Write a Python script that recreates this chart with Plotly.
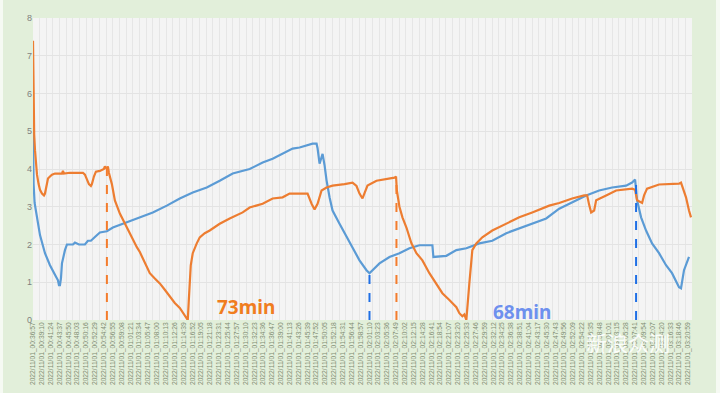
import plotly.graph_objects as go

# elapsed minutes since 2022/11/01 00:36:57
orange_t = [0.0, 0.15, 0.2, 0.3, 0.5, 0.75, 1.0, 1.4, 1.75, 2.25, 2.75, 3.0, 3.25, 3.5, 3.75, 4.25, 4.75, 5.5,
            7.25, 7.5, 7.75, 9.25, 12.5, 13.0, 13.5, 14.0, 14.5, 14.75, 15.25, 15.75, 16.75, 17.75, 18.0, 18.5,
            18.75, 19.0, 19.75, 20.5, 21.75, 23.0, 24.25, 26.0, 26.75, 28.0, 29.25, 30.5, 31.75, 33.0, 34.25,
            35.5, 36.75, 38.0, 38.5, 38.75, 39.0, 39.25, 39.5, 40.0, 40.5, 41.0, 41.75, 43.0, 44.25, 46.75,
            49.25, 51.0, 52.5, 54.25, 57.5, 60.0, 62.5, 64.25, 68.75, 69.75, 70.5, 71.25, 72.25, 73.5, 75.0,
            78.0, 80.0, 81.0, 81.75, 82.5, 83.0, 83.75, 86.0, 88.0, 90.5, 90.9, 91.1, 91.75, 92.5, 93.5, 94.75,
            96.0, 97.5, 99.25, 101.0, 102.5, 104.25, 106.0, 106.75, 107.5, 108.0, 108.5, 109.25, 109.75, 110.0,
            111.0, 112.5, 115.0, 118.5, 121.75, 125.0, 129.25, 131.75, 135.0, 138.0, 138.75, 139.25, 139.75,
            140.5, 141.0, 143.5, 146.0, 150.0, 150.75, 151.25, 152.5, 153.0, 153.75, 156.75, 161.75, 162.25,
            162.75, 163.5, 164.25, 164.75]
orange_v = [7.4, 5.2, 5.9, 4.9, 4.5, 4.1, 3.85, 3.6, 3.45, 3.35, 3.3, 3.35, 3.5, 3.65, 3.75, 3.8, 3.85, 3.88,
            3.88, 3.95, 3.88, 3.9, 3.9, 3.85, 3.7, 3.6, 3.55, 3.6, 3.8, 3.93, 3.95, 4.0, 4.07, 4.0,
            4.07, 3.9, 3.6, 3.17, 2.82, 2.55, 2.3, 1.93, 1.8, 1.53, 1.24, 1.1, 0.97, 0.8, 0.62,
            0.45, 0.32, 0.13, 0.05, 0.0, 0.5, 1.13, 1.45, 1.77, 1.92, 2.03, 2.19, 2.3, 2.37, 2.55,
            2.69, 2.77, 2.85, 2.98, 3.08, 3.22, 3.25, 3.35, 3.35, 3.08, 2.93, 3.08, 3.43, 3.51, 3.56,
            3.6, 3.64, 3.55, 3.35, 3.22, 3.35, 3.56, 3.69, 3.72, 3.77, 3.8, 3.43, 3.0, 2.72, 2.45, 2.03,
            1.77, 1.58, 1.24, 0.97, 0.71, 0.53, 0.34, 0.18, 0.1, 0.15, 0.0, 0.97, 1.5, 1.85,
            2.03, 2.19, 2.37, 2.55, 2.72, 2.85, 3.03, 3.1, 3.22, 3.3, 3.3, 3.05, 2.85,
            2.9, 3.17, 3.3, 3.43, 3.48, 3.45, 3.17, 3.1, 3.3, 3.48, 3.59, 3.61, 3.64,
            3.5, 3.25, 2.9, 2.72]

blue_t = [0.0, 0.15, 0.4, 1.0, 1.75, 3.0, 4.25, 5.5, 6.25, 6.5, 6.75, 7.0, 7.25, 8.0, 8.5, 10.0, 10.5, 11.5,
          13.0, 13.75, 14.5, 15.5, 16.75, 18.5, 20.0, 23.5, 26.75, 30.0, 33.5, 36.75, 40.0, 43.5, 46.75, 50.0,
          54.25, 57.5, 60.0, 62.5, 65.0, 66.75, 70.0, 71.0, 71.25, 71.75, 72.25, 72.5, 73.0, 73.5, 74.25,
          75.0, 76.75, 78.5, 80.0, 81.75, 83.5, 84.25, 86.75, 89.25, 91.75, 94.25, 96.75, 100.0, 100.25,
          103.5, 106.0, 108.5, 111.75, 115.0, 118.5, 121.75, 125.0, 128.5, 131.75, 135.0, 138.5, 141.75,
          145.0, 148.5, 150.0, 150.75, 151.25, 152.25, 153.5, 155.0, 156.75, 158.5, 160.0, 161.75, 162.25,
          163.0, 164.25]
blue_v = [5.1, 3.6, 3.1, 2.7, 2.25, 1.77, 1.45, 1.2, 1.05, 0.92, 0.92, 1.1, 1.5, 1.85, 2.0, 2.0, 2.05, 2.0,
          2.0, 2.1, 2.1, 2.2, 2.32, 2.35, 2.45, 2.59, 2.72, 2.85, 3.03, 3.22, 3.38, 3.51, 3.69, 3.88,
          4.0, 4.17, 4.27, 4.4, 4.54, 4.57, 4.67, 4.67, 4.55, 4.14, 4.3, 4.4, 4.1, 3.7, 3.25,
          2.9, 2.55, 2.2, 1.93, 1.58, 1.32, 1.24, 1.5, 1.67, 1.77, 1.9, 1.98, 1.98, 1.67,
          1.7, 1.85, 1.9, 2.03, 2.1, 2.3, 2.43, 2.55, 2.69, 2.95, 3.11, 3.3, 3.43,
          3.51, 3.56, 3.64, 3.72, 3.17, 2.72, 2.37, 2.03, 1.77, 1.45, 1.24, 0.87, 0.84,
          1.32, 1.67]

# dashed marker lines (start / end of each charge)
orange_mark_t = [18.5, 91.0]
orange_mark_v = [4.05, 3.8]
blue_mark_t = [84.25, 151.0]
blue_mark_v = [1.24, 3.72]

tick_labels = [
    "2022/11/01_00:36:57", "2022/11/01_00:39:10", "2022/11/01_00:41:24", "2022/11/01_00:43:37",
    "2022/11/01_00:45:50", "2022/11/01_00:48:03", "2022/11/01_00:50:16", "2022/11/01_00:52:29",
    "2022/11/01_00:54:42", "2022/11/01_00:56:55", "2022/11/01_00:59:08", "2022/11/01_01:01:21",
    "2022/11/01_01:03:34", "2022/11/01_01:05:47", "2022/11/01_01:08:00", "2022/11/01_01:10:13",
    "2022/11/01_01:12:26", "2022/11/01_01:14:39", "2022/11/01_01:16:52", "2022/11/01_01:19:05",
    "2022/11/01_01:21:18", "2022/11/01_01:23:31", "2022/11/01_01:25:44", "2022/11/01_01:27:57",
    "2022/11/01_01:30:10", "2022/11/01_01:32:23", "2022/11/01_01:34:36", "2022/11/01_01:36:47",
    "2022/11/01_01:39:00", "2022/11/01_01:41:13", "2022/11/01_01:43:26", "2022/11/01_01:45:39",
    "2022/11/01_01:47:52", "2022/11/01_01:50:05", "2022/11/01_01:52:18", "2022/11/01_01:54:31",
    "2022/11/01_01:56:44", "2022/11/01_01:58:57", "2022/11/01_02:01:10", "2022/11/01_02:03:23",
    "2022/11/01_02:05:36", "2022/11/01_02:07:49", "2022/11/01_02:10:02", "2022/11/01_02:12:15",
    "2022/11/01_02:14:28", "2022/11/01_02:16:41", "2022/11/01_02:18:54", "2022/11/01_02:21:07",
    "2022/11/01_02:23:20", "2022/11/01_02:25:33", "2022/11/01_02:27:46", "2022/11/01_02:29:59",
    "2022/11/01_02:32:12", "2022/11/01_02:34:25", "2022/11/01_02:36:38", "2022/11/01_02:38:51",
    "2022/11/01_02:41:04", "2022/11/01_02:43:17", "2022/11/01_02:45:30", "2022/11/01_02:47:43",
    "2022/11/01_02:49:56", "2022/11/01_02:52:09", "2022/11/01_02:54:22", "2022/11/01_02:56:35",
    "2022/11/01_02:58:48", "2022/11/01_03:01:01", "2022/11/01_03:03:15", "2022/11/01_03:05:28",
    "2022/11/01_03:07:41", "2022/11/01_03:09:54", "2022/11/01_03:12:07", "2022/11/01_03:14:20",
    "2022/11/01_03:16:33", "2022/11/01_03:18:46", "2022/11/01_03:20:59",
]
tick_step_min = 133 / 60.0
tick_vals = [i * tick_step_min for i in range(len(tick_labels))]

ORANGE = "#ED7D31"
BLUE = "#5B9BD5"

fig = go.Figure()

def mark_xy(ts, vs):
    xs, ys = [], []
    for t, v in zip(ts, vs):
        xs += [t, t, None]
        ys += [0, v, None]
    return xs, ys

ox, oy = mark_xy(orange_mark_t, orange_mark_v)
bx, by = mark_xy(blue_mark_t, blue_mark_v)

fig.add_trace(go.Scatter(x=blue_t, y=blue_v, mode="lines", line=dict(color=BLUE, width=2.2),
                         showlegend=False, hoverinfo="skip"))
fig.add_trace(go.Scatter(x=orange_t, y=orange_v, mode="lines", line=dict(color=ORANGE, width=2.2),
                         showlegend=False, hoverinfo="skip"))
fig.add_trace(go.Scatter(x=ox, y=oy, mode="lines", line=dict(color="#F47C2C", width=2, dash="dash"),
                         showlegend=False, hoverinfo="skip"))
fig.add_trace(go.Scatter(x=bx, y=by, mode="lines", line=dict(color="#1F6FE5", width=2, dash="dash"),
                         showlegend=False, hoverinfo="skip"))

fig.add_annotation(x=53.25, y=0.34, text="<b>73min</b>", showarrow=False,
                   font=dict(family="Noto Sans", size=19, color="#F07D1E"))
fig.add_annotation(x=122.5, y=0.21, text="<b>68min</b>", showarrow=False,
                   font=dict(family="Noto Sans", size=19, color="#6E90EE"))
fig.add_annotation(xref="paper", yref="paper", x=0.97, y=-0.13, text="新浪众测", showarrow=False,
                   font=dict(family="Noto Sans CJK SC", size=21, color="rgba(255,255,255,0.9)"))

fig.update_layout(
    width=720, height=393,
    margin=dict(l=33, r=28, t=18, b=73, autoexpand=False),
    paper_bgcolor="#E2EFDA",
    plot_bgcolor="#F4F4F4",
    font=dict(family="Liberation Sans", color="#7F7F7F"),
    shapes=[
        dict(type="rect", xref="paper", yref="paper", x0=-33/659, x1=-30/659, y0=-73/302, y1=1+18/302,
             fillcolor="#F6FAF3", line=dict(width=0), layer="below"),
        dict(type="rect", xref="paper", yref="paper", x0=1+(716-692)/659, x1=1+28/659, y0=-73/302, y1=1+18/302,
             fillcolor="#F6FAF3", line=dict(width=0), layer="below"),
    ],
)
fig.update_xaxes(
    automargin=False,
    range=[0, 165.0], tickmode="array", tickvals=tick_vals, ticktext=tick_labels,
    tickangle=-90, tickfont=dict(size=6.7, color="#7F8C72"), showgrid=False, zeroline=False,
    showline=False, ticks="",
    minor=dict(dtick=100/60.0, tick0=0, showgrid=True, gridcolor="#E6E6E6", gridwidth=1),
)
fig.update_yaxes(
    automargin=False,
    range=[0, 8], dtick=1, tickfont=dict(size=9, color="#7F7F7F"), showgrid=True,
    gridcolor="#E3E3E3", zeroline=False, showline=False, ticks="",
)

fig.write_html("out.html", config={"displayModeBar": False},
               post_script="document.body.style.margin='0px';document.body.style.overflow='hidden';")
